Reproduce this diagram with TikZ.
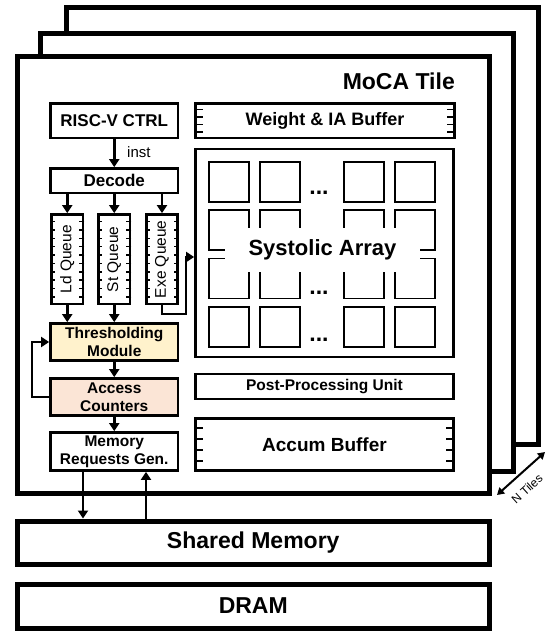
\documentclass[tikz,border=0pt]{standalone}
\usepackage{fontspec}
\setmainfont{Liberation Sans}
\usetikzlibrary{arrows.meta,calc}
\definecolor{thrfill}{RGB}{255,242,204}
\definecolor{accfill}{RGB}{251,229,214}
\begin{document}
\begin{tikzpicture}[x=1pt,y=-1pt,
  tile/.style={draw, line width=5pt, fill=white},
  blk/.style={draw, line width=2.7pt, fill=white, inner sep=0pt, align=center,
    font=\bfseries\fontsize{15.5}{18}\selectfont},
  qbox/.style={blk, minimum width=31.5, minimum height=89.5},
  qtxt/.style={font=\fontsize{15.5}{18}\selectfont, rotate=90, inner sep=0pt},
  conn/.style={line width=2.6pt, -{Triangle[length=8pt,width=10pt]}},
  cell/.style={draw, line width=1.7pt, minimum size=40, inner sep=0pt},
  tickline/.style={line width=1.5pt},
  dotsl/.style={font=\bfseries\fontsize{23}{23}\selectfont, inner sep=0pt},
  big/.style={font=\bfseries\fontsize{23}{27}\selectfont},
]
\useasboundingbox (0,0) rectangle (552,633);

% stacked tiles
\draw[tile] (66,7) rectangle (538,444);
\draw[tile] (40,33) rectangle (513,471);
\draw[tile] (17.5,56) rectangle (489,493);
\node[anchor=east, inner sep=0pt, big] (title) at (455,81) {MoCA Tile};

% control column
\node[blk, minimum width=127.5, minimum height=34.5, font=\bfseries\fontsize{17}{20}\selectfont]
  (risc) at (114.25,120.75) {RISC-V CTRL};
\node[blk, minimum width=127.5, minimum height=24.5, font=\bfseries\fontsize{17}{20}\selectfont]
  (dec) at (114.25,180.75) {Decode};
\node[qbox] (ld) at (67.25,259.25) {};
\node[qbox] (st) at (114.25,259.25) {};
\node[qbox, minimum width=31] (exe) at (162,259.25) {};
\foreach \q in {ld,st,exe}{
  \foreach \k in {1,...,10}{
    \draw[tickline] ($(\q.north west)!\k/11!(\q.south west)$) -- ++(5,0);
    \draw[tickline] ($(\q.north east)!\k/11!(\q.south east)$) -- ++(-5,0);
  }
}
\node[qtxt] (ldt) at (ld) {Ld Queue};
\node[qtxt] (stt) at (st) {St Queue};
\node[qtxt] (exet) at (exe) {Exe Queue};

\node[blk, fill=thrfill, minimum width=127.5, minimum height=37] (thr) at (114.25,342) {Thresholding\\Module};
\node[blk, fill=accfill, minimum width=127.5, minimum height=37] (acc) at (114.25,397) {Access\\Counters};
\node[blk, minimum width=127.5, minimum height=38] (mem) at (114.25,451.5) {Memory\\Requests Gen.};

% datapath column
\node[blk, minimum width=259, minimum height=34.5, font=\bfseries\fontsize{18}{21}\selectfont]
  (wbuf) at (325,120.75) {Weight \& IA Buffer};
\node[blk, minimum width=258, minimum height=208] (sys) at (324.5,253) {};
\node[blk, minimum width=258, minimum height=25] (ppu) at (324.5,386.5) {Post-Processing Unit};
\node[blk, minimum width=258, minimum height=52, font=\bfseries\fontsize{19}{22}\selectfont]
  (acb) at (324.5,444.5) {Accum Buffer};
\foreach \b in {wbuf,acb}{
  \foreach \k in {1,...,4}{
    \draw[tickline] ($(\b.north west)!\k/5!(\b.south west)$) -- ++(9,0);
    \draw[tickline] ($(\b.north east)!\k/5!(\b.south east)$) -- ++(-9,0);
  }
}

% processing elements
\foreach \cx [count=\i] in {228.7,280,363.8,415}{
  \foreach \cy [count=\j] in {182,230,278.5,327}{
    \node[cell] (pe\i\j) at (\cx,\cy) {};
  }
}
\node[fill=white, minimum width=195, minimum height=44, inner sep=0pt,
  font=\bfseries\fontsize{22}{26}\selectfont] (sysl) at (322.5,250) {Systolic Array};
\node[dotsl] (dots1) at (319,193) {...};
\node[dotsl] (dots3) at (319,293) {...};
\node[dotsl] (dots4) at (319,340) {...};

% memories
\node[tile, minimum width=471.5, minimum height=43, inner sep=0pt, big] (sh) at (253.25,542.5) {Shared Memory};
\node[tile, minimum width=471.5, minimum height=44, inner sep=0pt, big] (dram) at (253.25,606) {DRAM};

% connectors
\draw[conn] (risc.south) -- (dec.north);
\node[anchor=west, inner sep=0pt, font=\fontsize{15}{17}\selectfont] (inst) at (127,152.5) {inst};
\foreach \q in {ld,st,exe}{
  \draw[conn] (dec.south -| \q.north) -- (\q.north);
}
\draw[conn] (ld.south) -- (thr.north -| ld.south);
\draw[conn] (st.south) -- (thr.north -| st.south);
\draw[conn] (exe.south) -- ++(0,8.5) -| ($(sys.west)+(-8,4)$) -- ($(sys.west)+(0,4)$);
\draw[conn] (thr.south) -- (acc.north);
\draw[conn] (acc.south) -- (mem.north);
\draw[conn] (acc.west) -- ++(-17,0) |- (thr.west);
\draw[conn] (mem.south -| 83,0) -- (sh.north -| 83,0);
\draw[conn] (sh.north -| 146,0) -- (mem.south -| 146,0);

% tile count
\coordinate (na) at (497,495);
\coordinate (nb) at (545,452);
\draw[line width=2pt, {Triangle[length=7pt,width=8pt]}-{Triangle[length=7pt,width=8pt]}] (na) -- (nb);
\node[rotate=42, inner sep=0pt, font=\fontsize{12}{14}\selectfont] (ntl) at (527,489) {N Tiles};
\end{tikzpicture}
\end{document}
